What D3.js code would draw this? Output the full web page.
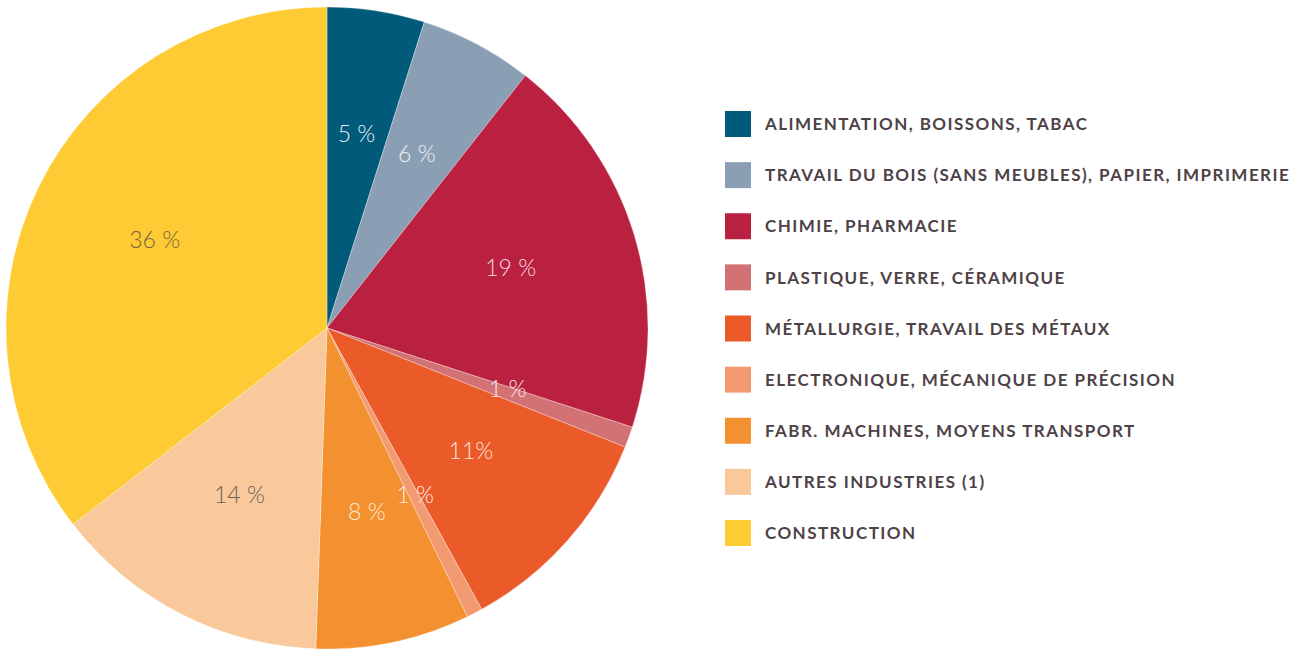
<!DOCTYPE html>
<html>
<head>
<meta charset="utf-8">
<script src="https://cdn.jsdelivr.net/npm/d3@7"></script>
<style>
html,body{margin:0;padding:0;background:#fff;}
svg{display:block;}
</style>
</head>
<body>
<svg id="chart" width="1301" height="649"></svg>
<script>
const categories = [
  "ALIMENTATION, BOISSONS, TABAC",
  "TRAVAIL DU BOIS (SANS MEUBLES), PAPIER, IMPRIMERIE",
  "CHIMIE, PHARMACIE",
  "PLASTIQUE, VERRE, CÉRAMIQUE",
  "MÉTALLURGIE, TRAVAIL DES MÉTAUX",
  "ELECTRONIQUE, MÉCANIQUE DE PRÉCISION",
  "FABR. MACHINES, MOYENS TRANSPORT",
  "AUTRES INDUSTRIES (1)",
  "CONSTRUCTION"
];
const values = [4.9, 5.7, 19.4, 1.05, 10.95, 0.8, 7.76, 13.97, 35.48];
const valueLabels = ["5 %", "6 %", "19 %", "1 %", "11%", "1 %", "8 %", "14 %", "36 %"];
const colors = ["#015a7a", "#8a9fb4", "#ba2040", "#d27274", "#eb5b2a", "#f29b72", "#f3902f", "#f9c99b", "#fecb34"];
const labelColors = ["#e6eef2", "#eef1f5", "#f3dde2", "#f7e6e6", "#fbe3d8", "#fdeee6", "#fde8d2", "#6e5f57", "#7a6440"];

const svg = d3.select("#chart");
const cx = 327, cy = 328, R = 321, rLabel = 192;

const pie = d3.pie().sort(null).value(d => d.v);
const data = categories.map((c, i) => ({c, v: values[i], i}));
const arcs = pie(data);
const arc = d3.arc().innerRadius(0).outerRadius(R);
const labelArc = d3.arc().innerRadius(rLabel).outerRadius(rLabel);

const g = svg.append("g").attr("transform", `translate(${cx},${cy})`);
g.selectAll("path").data(arcs).join("path")
  .attr("d", arc)
  .attr("fill", d => colors[d.data.i])
  .attr("stroke", "#ffffff")
  .attr("stroke-opacity", 0.5)
  .attr("stroke-width", 0.6);

g.selectAll("text").data(arcs).join("text")
  .attr("transform", d => `translate(${labelArc.centroid(d)})`)
  .attr("text-anchor", "middle")
  .attr("dy", "0.18em")
  .attr("font-family", "'Source Sans Pro', Lato, 'Open Sans', sans-serif")
  .attr("font-weight", 300)
  .attr("font-size", 23)
  .attr("fill", d => labelColors[d.data.i])
  .text(d => valueLabels[d.data.i]);

// legend
const legendY = d3.scalePoint().domain(categories).range([124, 533]);
const lg = svg.append("g");
const rows = lg.selectAll("g").data(categories).join("g")
  .attr("transform", d => `translate(725,${legendY(d)})`);
rows.append("rect")
  .attr("x", 0).attr("y", -13).attr("width", 26).attr("height", 26)
  .attr("fill", (d, i) => colors[i]);
rows.append("text")
  .attr("x", 40).attr("dy", "0.36em")
  .attr("font-family", "'Source Sans Pro', Lato, 'Open Sans', sans-serif")
  .attr("font-weight", 700)
  .attr("font-size", 17)
  .attr("letter-spacing", 1.45)
  .attr("fill", "#4e4247")
  .text(d => d);
</script>
</body>
</html>
